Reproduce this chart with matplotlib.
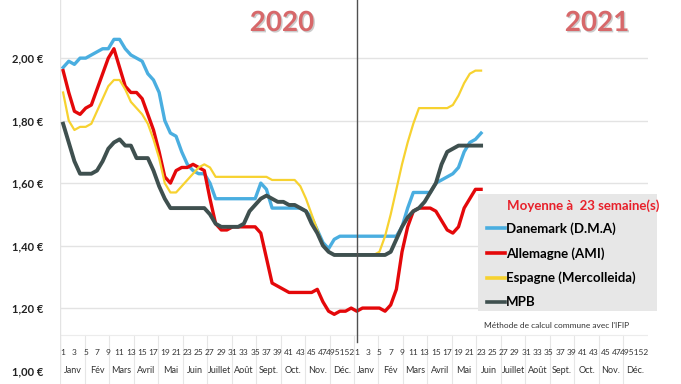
import matplotlib
matplotlib.use("Agg")
import matplotlib.pyplot as plt
import matplotlib.patheffects as pe
from matplotlib.patches import Rectangle
import numpy as np

plt.rcParams['font.family'] = ['Lato', 'DejaVu Sans']

# weekly prices, 2020 weeks 1-52 then 2021 weeks 1-23
danemark_2020 = [1.97, 1.99, 1.98, 2.00, 2.00, 2.01, 2.02, 2.03, 2.03, 2.06,
                 2.06, 2.03, 2.01, 2.00, 1.99, 1.95, 1.93, 1.89, 1.80, 1.76,
                 1.75, 1.70, 1.66, 1.64, 1.63, 1.63, 1.60, 1.55, 1.55, 1.55,
                 1.55, 1.55, 1.55, 1.55, 1.55, 1.60, 1.58, 1.52, 1.52, 1.52,
                 1.52, 1.52, 1.52, 1.51, 1.49, 1.45, 1.41, 1.39, 1.42, 1.43,
                 1.43, 1.43]
danemark_2021 = [1.43, 1.43, 1.43, 1.43, 1.43, 1.43, 1.43, 1.43, 1.46, 1.52,
                 1.57, 1.57, 1.57, 1.57, 1.60, 1.61, 1.62, 1.63, 1.65, 1.70,
                 1.73, 1.74, 1.76]

allemagne_2020 = [1.96, 1.89, 1.83, 1.82, 1.84, 1.85, 1.90, 1.95, 2.00, 2.03,
                  1.97, 1.91, 1.89, 1.89, 1.87, 1.82, 1.77, 1.70, 1.62, 1.60,
                  1.64, 1.65, 1.65, 1.66, 1.65, 1.64, 1.55, 1.47, 1.45, 1.45,
                  1.46, 1.46, 1.46, 1.46, 1.46, 1.44, 1.36, 1.28, 1.27, 1.26,
                  1.25, 1.25, 1.25, 1.25, 1.25, 1.26, 1.22, 1.19, 1.18, 1.19,
                  1.19, 1.20]
allemagne_2021 = [1.19, 1.20, 1.20, 1.20, 1.20, 1.19, 1.21, 1.26, 1.38, 1.46,
                  1.51, 1.52, 1.52, 1.52, 1.51, 1.48, 1.45, 1.44, 1.46, 1.52,
                  1.55, 1.58, 1.58]

espagne_2020 = [1.89, 1.80, 1.77, 1.78, 1.78, 1.79, 1.83, 1.87, 1.91, 1.93,
                1.93, 1.90, 1.86, 1.84, 1.82, 1.79, 1.74, 1.68, 1.60, 1.57,
                1.57, 1.59, 1.61, 1.63, 1.65, 1.66, 1.65, 1.62, 1.62, 1.62,
                1.62, 1.62, 1.62, 1.62, 1.62, 1.62, 1.62, 1.61, 1.61, 1.61,
                1.61, 1.61, 1.59, 1.55, 1.50, 1.45, 1.40, 1.38, 1.37, 1.37,
                1.37, 1.37]
espagne_2021 = [1.37, 1.37, 1.37, 1.37, 1.38, 1.43, 1.50, 1.58, 1.66, 1.73,
                1.79, 1.84, 1.84, 1.84, 1.84, 1.84, 1.84, 1.85, 1.88, 1.92,
                1.95, 1.96, 1.96]

mpb_2020 = [1.79, 1.73, 1.67, 1.63, 1.63, 1.63, 1.64, 1.67, 1.71, 1.73,
            1.74, 1.72, 1.72, 1.68, 1.68, 1.68, 1.64, 1.59, 1.55, 1.52,
            1.52, 1.52, 1.52, 1.52, 1.52, 1.52, 1.50, 1.47, 1.46, 1.46,
            1.46, 1.46, 1.47, 1.51, 1.53, 1.55, 1.56, 1.55, 1.54, 1.54,
            1.53, 1.53, 1.52, 1.51, 1.47, 1.44, 1.40, 1.38, 1.37, 1.37,
            1.37, 1.37]
mpb_2021 = [1.37, 1.37, 1.37, 1.37, 1.37, 1.37, 1.38, 1.42, 1.46, 1.49,
            1.51, 1.52, 1.54, 1.57, 1.60, 1.66, 1.70, 1.71, 1.72, 1.72,
            1.72, 1.72, 1.72]

months = ['Janv', 'Fév', 'Mars', 'Avril', 'Mai', 'Juin', 'Juillet', 'Août',
          'Sept.', 'Oct.', 'Nov.', 'Déc.']
week_labels = [str(w) for w in range(1, 48, 2)]
last_weeks = '495152'   # 49, 51 and 52 run together at the end of each year
y_ticks = [1.00, 1.20, 1.40, 1.60, 1.80, 2.00]

series = [
    ('Danemark (D.M.A)', danemark_2020 + danemark_2021, '#4aaee0', 2.4),
    ('Allemagne (AMI)', allemagne_2020 + allemagne_2021, '#e4080a', 2.4),
    ('Espagne (Mercolleida)', espagne_2020 + espagne_2021, '#f7d230', 1.6),
    ('MPB', mpb_2020 + mpb_2021, '#3f504f', 2.8),
]

fig = plt.figure(figsize=(6.81, 3.84), dpi=100)
ax = fig.add_axes([60 / 681, 0, (648 - 60) / 681, 1])
ymin, ymax = 0.957, 2.186
ax.set_xlim(-0.55, 103.55)
ax.set_ylim(ymin, ymax)

# horizontal grid
for v in y_ticks[1:]:
    ax.axhline(v, color='#e3e3e3', lw=1, zorder=0)
ax.axvline(-0.55, ymin=(1.0 - ymin) / (ymax - ymin), color='#e3e3e3', lw=1)

for name, vals, col, lw in series:
    x = np.arange(len(vals))
    ax.plot(x, vals, color=col, lw=lw, label=name, solid_joinstyle='round', zorder=3)

# year separator
ax.axvline(52, ymin=(1.09 - ymin) / (ymax - ymin), color='#505050', lw=1, zorder=4)

# y labels
ax.set_yticks(y_ticks)
ax.set_yticklabels([('%.2f €' % v).replace('.', ',') for v in y_ticks],
                   fontsize=8, fontweight='bold', color='#222222')
ax.tick_params(axis='y', length=0, pad=12)
ax.set_xticks([])
for s in ax.spines.values():
    s.set_visible(False)

# two-level category axis: weeks then months
for year in range(2):
    off = year * 52
    for lab in week_labels:
        ax.text(off + int(lab) - 1, 1.057, lab, ha='center', va='center',
                fontsize=6, color='#333333')
    ax.text(off + 49.1, 1.057, last_weeks, ha='center', va='center',
            fontsize=6, color='#333333')
    for m, mname in enumerate(months):
        c = (m + 0.5) * 52 / 12 - 0.5
        ax.text(off + c, 1.0, mname, ha='center', va='center', fontsize=6.5,
                color='#333333')
        b = m * 52 / 12 - 0.5
        ax.plot([off + b, off + b], [ymin, 1.115], color='#e6e6e6', lw=0.8, zorder=0)
ax.plot([-0.55, 103.55], [1.115, 1.115], color='#ececec', lw=0.8, zorder=0)

# year titles
shadow = [pe.withSimplePatchShadow(offset=(1, -1), shadow_rgbFace='#999999', alpha=0.5)]
fig.text(282 / 681, 1 - 23 / 384, '2020', ha='center', va='center', fontsize=20,
         fontweight='bold', color='#d7686a', path_effects=shadow)
fig.text(597 / 681, 1 - 23 / 384, '2021', ha='center', va='center', fontsize=20,
         fontweight='bold', color='#d7686a', path_effects=shadow)

# legend box drawn by hand so it sits where the original one is
ax.add_patch(Rectangle((478 / 681, 1 - 311 / 384), 179 / 681, 117 / 384,
                       transform=fig.transFigure, facecolor='#e7e7e7',
                       edgecolor='none', zorder=5, clip_on=False))
ax.text(507 / 681, 1 - 206 / 384, 'Moyenne à  23 semaine(s)', fontsize=9.5,
        fontweight='bold', color='#e8202a', va='center', zorder=6,
        transform=fig.transFigure)
leg = ax.legend(loc='upper left', bbox_to_anchor=(487 / 681, 1 - 222 / 384),
                bbox_transform=fig.transFigure, frameon=False,
                handlelength=1.35, handletextpad=0.1, labelspacing=0.92,
                borderpad=0, borderaxespad=0,
                prop={'size': 9.5, 'weight': 'bold'})
for line in leg.get_lines():
    line.set_linewidth(2.6)
leg.set_zorder(7)

fig.text(484 / 681, 1 - 325 / 384, "Méthode de calcul commune avec l'IFIP",
         fontsize=6, color='#333333', va='center')

plt.savefig('out.png', dpi=100)
